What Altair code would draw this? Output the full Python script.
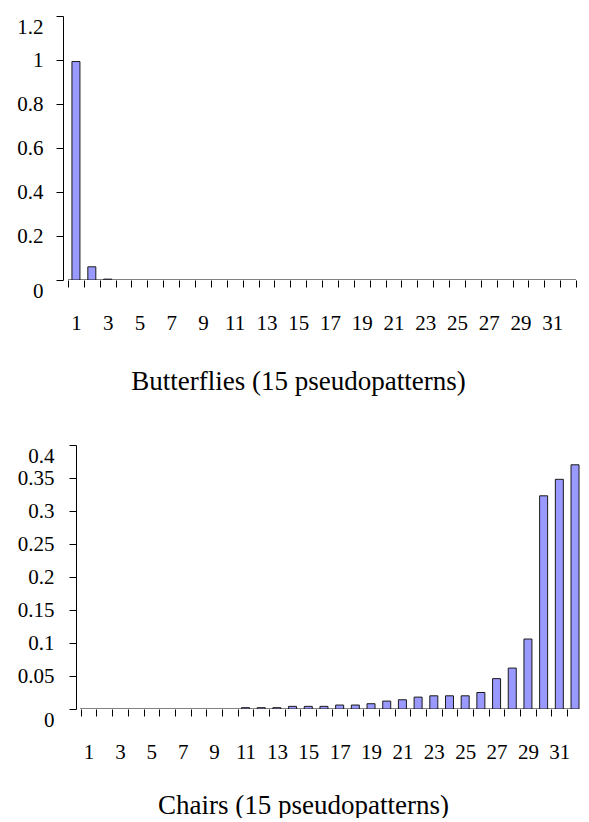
import altair as alt
import pandas as pd

FONT = "Liberation Serif"

categories = list(range(1, 33))

butterflies = [0.993, 0.060, 0.004, 0, 0, 0, 0, 0, 0, 0,
               0, 0, 0, 0, 0, 0, 0, 0, 0, 0,
               0, 0, 0, 0, 0, 0, 0, 0, 0, 0,
               0, 0]

chairs = [0, 0, 0, 0, 0, 0, 0, 0, 0, 0,
          0.002, 0.002, 0.002, 0.004, 0.004, 0.004, 0.006, 0.006, 0.008, 0.012,
          0.014, 0.018, 0.020, 0.020, 0.020, 0.025, 0.046, 0.062, 0.106, 0.323,
          0.348, 0.370]

butterfly_title = "Butterflies (15 pseudopatterns)"
chair_title = "Chairs (15 pseudopatterns)"

butterfly_yticks = [0, 0.2, 0.4, 0.6, 0.8, 1, 1.2]
chair_yticks = [0, 0.05, 0.1, 0.15, 0.2, 0.25, 0.3, 0.35, 0.4]

PLOT_W = 518


def panel(values, title, yticks, height, xmin, xmax, ylab_pad, y_offset, title_x, title_y):
    df = pd.DataFrame({"k": categories, "v": values})
    tick_vals = [c - 0.5 for c in categories] + [categories[-1] + 0.5]
    tick_vals = [t for t in tick_vals if t <= xmax]
    label_vals = [c for c in categories if c % 2 == 1]
    x_vals = sorted(tick_vals + label_vals)
    ymax = yticks[-1]
    x_axis = alt.Axis(
        values=x_vals,
        title=title,
        labelExpr="datum.value % 2 == 1 ? '' + datum.value : ''",
        tickOpacity={"condition": {"test": "datum.value % 1 == 0", "value": 0}, "value": 1},
        tickSize=7,
        tickColor="#000000",
        domain=False,
        labelFont=FONT,
        labelFontSize=21,
        labelColor="#000000",
        labelPadding=25,
        labelFlush=False,
        labelOverlap=False,
        labelBound=False,
        grid=False,
        titleFont=FONT,
        titleFontSize=27,
        titleFontWeight="normal",
        titleColor="#000000",
        titleX=title_x,
        titleY=title_y,
        titleAlign="center",
        titleBaseline="alphabetic",
    )
    y_axis = alt.Axis(
        values=yticks,
        format="~g",
        title=None,
        grid=False,
        offset=y_offset,
        tickSize=7,
        tickColor="#000000",
        domainColor="#000000",
        labelFont=FONT,
        labelFontSize=21,
        labelColor="#000000",
        labelPadding=ylab_pad,
        labelFlush=False,
        labelOverlap=False,
        labelBaseline={"condition": {"test": f"datum.value == 0 || datum.value == {ymax}", "value": "top"},
                       "value": "middle"},
    )
    xscale = alt.Scale(domain=[xmin, xmax], nice=False, zero=False)
    yscale = alt.Scale(domain=[0, ymax], nice=False, zero=True)
    bars = (
        alt.Chart(df)
        .transform_filter("datum.v > 0")
        .mark_bar(size=8, fill="#9999FF", stroke="#1a1a1a", strokeWidth=1, clip=True)
        .encode(
            x=alt.X("k:Q", scale=xscale, axis=x_axis),
            y=alt.Y("v:Q", scale=yscale, axis=y_axis),
        )
    )
    baseline = (
        alt.Chart(df)
        .mark_rule(color="#808080", strokeWidth=1, clip=True)
        .encode(
            x=alt.X(datum=0.5, type="quantitative", scale=xscale, axis=x_axis),
            x2=alt.X2(datum=xmax),
            y=alt.Y(datum=0, type="quantitative", scale=yscale, axis=y_axis),
        )
    )
    return alt.layer(baseline, bars).properties(width=PLOT_W, height=height)


# top panel: x scale spans the whole plot width
top = panel(butterflies, butterfly_title, butterfly_yticks, 264,
            0.5, 32.5, 13, 0, 235, 109)

# bottom panel: y axis sits 13px inside the plot area, last bar clipped at the edge
cat_px = 16.0
bx0 = 0.5 - 13 / cat_px
bx1 = bx0 + PLOT_W / cat_px
bottom = panel(chairs, chair_title, chair_yticks, 264,
               bx0, bx1, 15, -13, 240, 104)

chart = (
    alt.concat(top, bottom, columns=1, spacing=50)
    .properties(padding={"left": 8, "top": 7, "right": 0, "bottom": 0})
    .configure_view(stroke=None)
)

chart.save("out.html", embed_options={"renderer": "svg", "actions": False})
